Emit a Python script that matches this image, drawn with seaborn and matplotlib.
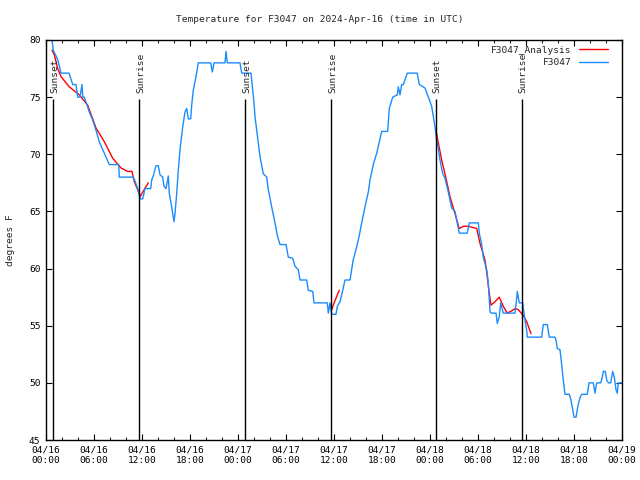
import numpy as np
import pandas as pd
import matplotlib
matplotlib.use('Agg')
import matplotlib.pyplot as plt
import seaborn as sns

# hours after 2024-04-16 00:00 UTC, temperature in degrees F
obs_hours = [0.75, 0.91, 1.46, 1.875, 2.875, 3.34, 3.75, 3.96, 4.25, 4.5, 4.6, 4.79, 5.41, 5.84,
             6.25, 6.66, 7.09, 7.29, 7.91, 9.09, 9.16, 10.91, 11.16, 11.46, 11.79, 12.09, 12.375,
             13.09, 13.21, 13.41, 13.75, 14.04, 14.25, 14.59, 14.75, 15.0, 15.29, 15.41, 15.71,
             16.0, 16.125, 16.34, 16.54, 16.75, 17.09, 17.375, 17.59, 17.79, 18.09, 18.21, 18.41,
             18.75, 19.04, 20.59, 20.79, 21.0, 22.375, 22.5, 22.66, 24.25, 24.46, 25.625, 25.71,
             25.84, 26.0, 26.125, 26.34, 26.54, 26.75, 27.16, 27.59, 27.79, 28.21, 28.625, 28.91,
             29.25, 30.0, 30.29, 30.84, 31.125, 31.54, 31.75, 32.59, 32.79, 33.34, 33.5, 35.16,
             35.29, 35.5, 35.71, 36.25, 36.41, 36.75, 37.09, 37.375, 38.0, 38.21, 38.41, 38.84,
             39.16, 39.46, 39.875, 40.29, 40.5, 40.91, 41.34, 41.66, 41.96, 42.71, 42.91, 43.34,
             43.91, 44.04, 44.25, 44.46, 44.66, 45.16, 46.41, 46.66, 47.375, 47.79, 48.21, 48.625,
             48.84, 49.04, 49.25, 49.59, 49.875, 50.29, 50.71, 51.125, 51.34, 51.66, 52.66, 52.91,
             54.04, 54.16, 54.46, 54.66, 55.09, 55.29, 55.5, 55.71, 56.25, 56.41, 56.66, 56.84,
             57.16, 58.625, 58.84, 58.91, 59.16, 59.59, 59.75, 59.875, 60.09, 60.16, 61.96, 62.16,
             62.66, 62.91, 63.625, 63.75, 63.91, 64.25, 64.46, 64.66, 64.875, 65.41, 65.59, 65.75,
             66.0, 66.25, 66.5, 66.75, 66.96, 67.66, 67.875, 68.41, 68.625, 68.84, 69.34, 69.54,
             69.66, 69.91, 70.09, 70.29, 70.59, 70.71, 70.84, 71.04, 71.25, 71.41, 71.54, 71.96]
obs_temps = [80.0, 79.1, 78.3, 77.1, 77.1, 76.1, 76.1, 75.0, 75.0, 76.1, 75.0, 75.0, 73.7, 73.0,
             72.1, 71.1, 70.4, 70.1, 69.1, 69.1, 68.0, 68.0, 67.6, 67.0, 66.1, 66.1, 67.0,
             67.0, 67.75, 68.1, 69.0, 69.0, 68.2, 68.0, 67.2, 67.0, 68.1, 66.6, 65.4,
             64.1, 64.8, 66.6, 68.6, 70.4, 72.4, 73.7, 74.0, 73.1, 73.1, 74.3, 75.6,
             76.8, 78.0, 78.0, 77.2, 78.0, 78.0, 79.0, 78.0, 78.0, 77.1, 77.1, 76.5,
             75.6, 74.5, 73.3, 72.1, 71.0, 69.8, 68.3, 68.0, 66.9, 65.4, 64.0, 62.9,
             62.1, 62.1, 61.0, 60.9, 60.2, 59.9, 59.0, 59.0, 58.1, 58.0, 57.0, 57.0,
             56.1, 57.0, 56.0, 56.0, 56.7, 57.1, 58.1, 59.0, 59.0, 59.9, 60.8, 61.9,
             62.9, 64.0, 65.4, 66.7, 67.75, 69.1, 70.1, 71.1, 72.0, 72.0, 74.0, 75.0,
             75.2, 75.9, 75.2, 76.1, 76.1, 77.1, 77.1, 76.1, 75.8, 75.0, 74.2, 72.4,
             71.25, 70.5, 69.5, 68.3, 67.9, 66.7, 65.3, 65.0, 64.25, 63.1, 63.1, 64.0,
             64.0, 63.1, 62.1, 61.0, 59.9, 58.7, 56.2, 56.1, 56.1, 55.2, 55.8, 57.0,
             56.1, 56.1, 57.4, 58.0, 57.0, 57.0, 56.1, 55.5, 54.6, 54.0, 54.0, 55.1,
             55.1, 54.0, 54.0, 53.75, 53.0, 52.9, 51.6, 50.25, 49.0, 49.0, 48.6, 48.0,
             47.0, 47.0, 48.0, 48.7, 49.0, 49.0, 50.0, 50.0, 49.1, 50.0, 50.0, 50.5,
             51.0, 51.0, 50.25, 50.0, 50.0, 50.5, 51.0, 50.5, 49.4, 49.1, 50.0, 50.0]

# analysis curve, three separate pieces
ana1_hours = [0.75, 1.04, 1.46, 1.875, 2.91, 4.16, 5.21, 6.25, 7.29, 8.34, 9.375, 10.21, 10.75,
              11.04, 11.46, 11.79, 12.09, 12.79]
ana1_temps = [79.1, 78.7, 77.5, 76.8, 75.9, 75.2, 74.3, 72.3, 71.1, 69.65, 68.8, 68.5, 68.5,
              67.6, 66.9, 66.3, 66.7, 67.5]
ana2_hours = [35.71, 36.125, 36.66]
ana2_temps = [56.4, 57.2, 58.1]
ana3_hours = [48.75, 49.04, 49.46, 50.0, 50.5, 51.0, 51.41, 51.66, 52.16, 52.79, 53.34, 53.84,
              54.25, 54.875, 55.16, 55.41, 55.625, 56.125, 56.66, 57.16, 57.66, 58.21, 58.625,
              59.04, 59.66, 60.09, 60.625]
ana3_temps = [72.1, 71.0, 69.5, 67.9, 66.3, 65.1, 64.1, 63.5, 63.7, 63.7, 63.6, 63.5,
              62.2, 60.75, 59.3, 57.8, 56.8, 57.1, 57.5, 56.7, 56.1, 56.3, 56.5,
              56.4, 55.9, 55.35, 54.3]

sun_hours = [0.91, 11.66, 24.9, 35.66, 48.75, 59.5]
sun_labels = ['Sunset', 'Sunrise', 'Sunset', 'Sunrise', 'Sunset', 'Sunrise']

xtick_hours = list(range(0, 73, 6))
xtick_labels = ['04/16\n00:00', '04/16\n06:00', '04/16\n12:00', '04/16\n18:00',
                '04/17\n00:00', '04/17\n06:00', '04/17\n12:00', '04/17\n18:00',
                '04/18\n00:00', '04/18\n06:00', '04/18\n12:00', '04/18\n18:00',
                '04/19\n00:00']

sns.set_style('ticks')
plt.rcParams['font.family'] = ['DejaVu Sans Mono']
fs = 6.8
plt.rcParams['font.size'] = fs
plt.rcParams['xtick.direction'] = 'in'
plt.rcParams['ytick.direction'] = 'in'

fig = plt.figure(figsize=(6.4, 4.8), dpi=100)
ax = fig.add_axes([46 / 640, 40 / 480, 576 / 640, 400 / 480])

red = '#ff0000'
blue = '#1a8cff'

sns.lineplot(x=ana1_hours, y=ana1_temps, color=red, lw=1.0, ax=ax, label='F3047_Analysis')
sns.lineplot(x=ana2_hours, y=ana2_temps, color=red, lw=1.0, ax=ax)
sns.lineplot(x=ana3_hours, y=ana3_temps, color=red, lw=1.0, ax=ax)
sns.lineplot(x=obs_hours, y=obs_temps, color=blue, lw=1.0, ax=ax, label='F3047')

ax.vlines(sun_hours, 45, 74.85, color='black', lw=1.0)
for h, lab in zip(sun_hours, sun_labels):
    ax.text(h + 0.15, 75.4, lab, rotation=90, ha='center', va='bottom', fontsize=fs)

ax.set_xlim(0, 72)
ax.set_ylim(45, 80)
ax.set_xticks(xtick_hours)
ax.set_xticklabels(xtick_labels)
ax.set_xticks(range(0, 73, 2), minor=True)
ax.set_yticks(range(45, 81, 5))
ax.tick_params(which='major', length=4, width=0.8, top=True, right=True, pad=4, colors='black')
ax.tick_params(which='minor', length=2.5, width=0.8, top=True, right=True)
for s in ax.spines.values():
    s.set_linewidth(1.0)
    s.set_color('black')

fig.suptitle('Temperature for F3047 on 2024-Apr-16 (time in UTC)', x=0.5, y=1 - 20 / 480,
             va='center', fontsize=fs)
ax.set_ylabel('degrees F', fontsize=fs, labelpad=10)
ax.set_xlabel('')

ax.legend(loc='upper right', bbox_to_anchor=(0.985, 1.0), frameon=False, markerfirst=False,
          handlelength=3.0, borderaxespad=0.2, labelspacing=0.35, fontsize=fs)

fig.savefig('out.png', dpi=100)
